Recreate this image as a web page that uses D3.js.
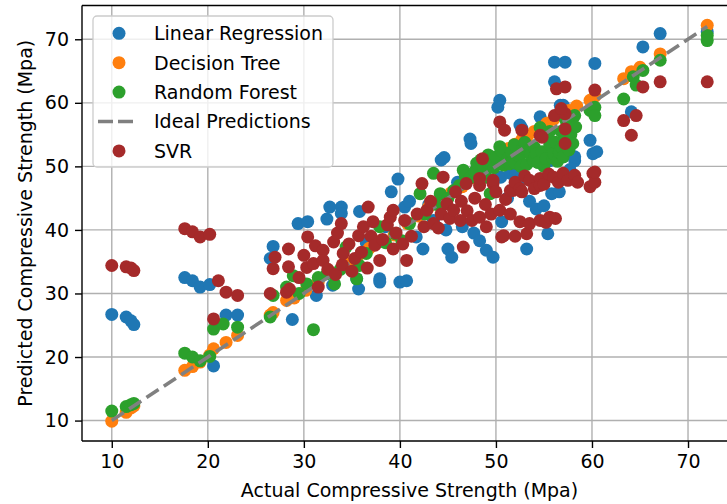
<!DOCTYPE html>
<html><head><meta charset="utf-8">
<script src="https://cdn.jsdelivr.net/npm/d3@7"></script>
<style>body{margin:0;background:#fff}svg{display:block}text{font-family:"DejaVu Sans",sans-serif;fill:#000}</style>
</head><body><svg id="c" width="727" height="504"></svg>
<script>
const xTicks=[10,20,30,40,50,60,70];
const yTicks=[10,20,30,40,50,60,70];
const idealRange=[10,72];
const xLabel="Actual Compressive Strength (Mpa)";
const yLabel="Predicted Compressive Strength (Mpa)";

// [actual, predicted]
const linearRegression=[[10,26.7],[11.5,26.3],[12,25.7],[12.3,25.1],[17.6,32.5],[18.4,32],[19.2,31],[20.2,31.4],[20.6,18.6],[21.9,26.6],[23.1,26.6],
[26.5,35.5],[26.8,37.4],[28.8,25.9],[29.4,41],[30.4,41.3],[31.3,29.7],[32.4,41.7],[32.7,43.6],[33,31.3],[33.9,43.6],[33.9,42.6],[35.5,32.3],[35.7,30.7],[35.8,42.9],[36.5,38],[37.9,32.3],[37.9,31.8],[38.5,40.5],[39.1,46],[39.8,48],[40,31.8],[40.7,32],[40.5,43.6],[41,44.5],[41.7,38.9],[42.4,37],[43,44],[43.5,41.5],[44.3,51],[44.6,51.4],[44.8,40],[45,37],[45.4,35.7],[46,47.5],[46.5,40.5],[47.3,54.3],[47.4,53.6],[47.7,39.5],[48.3,38.3],[48.5,49.5],[49,36.8],[49.7,35.7],[50.2,59.3],[50.4,60.4],[50.6,41.3],[50.5,48.3],[51.2,45],[51.5,48.9],[52.1,48.9],[52.5,47.8],[52.5,56.5],[52.7,56],[53.2,37],[53.5,44.5],[54.2,43.3],[54.6,57.8],[54.6,50.7],[55,43.8],[55.4,39.4],[55.6,50.9],[55.8,45.7],[56.1,66.4],[57.2,66.4],[56.1,63.3],[56.6,46],[56.7,59.6],[57,59.6],[57,51.5],[57.7,49.5],[58.2,50.9],[58.2,51.5],[59.8,54.1],[60.1,52],[60.5,52.3],[60.3,66.2],[64.1,58.6],[65.3,68.8],[67.1,70.9],[72,71.2]];

const decisionTree=[[10,9.9],[11.5,11.3],[12,12],[12.3,12.3],[17.6,17.9],[18.4,18.5],[19.2,19.2],[20.2,20.3],[20.6,21.3],[21.9,22.3],[23.1,23.4],[26.5,26.6],[26.8,27],[28.2,28.9],[29,29.3],[30.2,30.5],[31.5,31.8],[33,33.2],[34.4,34.8],[35.5,35.2],[36.8,37.1],[38,38.3],[39.4,39.2],[40.8,41],[41.9,42.2],[43,43.6],[44.2,44.5],[45.3,45.8],[46.5,46.8],[47.6,48.2],[48.5,49.1],[49.2,50],[50,51.3],[50.6,52.2],[51.3,52.8],[52,53.5],[52.7,54.2],[53.3,54.8],[54,55.5],[54.7,56.1],[55.3,56.8],[56,57.4],[56.8,58.1],[57.6,58.8],[58.4,59.5],[59.8,60.4],[60.3,61],[63.3,63.8],[64.1,64.9],[65,65.6],[67.1,67.7],[72,72.2]];

const randomForest=[[10,11.5],[11.5,12.2],[12,12.5],[12.3,12.7],[17.6,20.6],[18.4,20],[19.2,19.4],[20.2,20.1],[20.6,24.4],[21.6,25.2],[23.1,24.7],[26.5,26.3],[26.8,29.7],[28.2,31],[28.9,32.8],[29.5,30],[30.3,31.5],[31,24.3],[31.5,32.5],[32.4,33.1],[33.2,31.5],[33.8,33.8],[34.4,37.3],[35.5,32.3],[35.8,34.4],[36.5,36.3],[37.9,40.5],[38.5,38],[39.5,39.4],[40.2,38.3],[41,41],[42.1,45.7],[42.6,42.5],[43.5,48.9],[43.8,44],[44.2,45.7],[45,45],[45.6,46.2],[46.2,47],[46.6,49.4],[46.8,48.5],[47.3,48.2],[47.8,49.2],[48,50.5],[48.4,51],[48.7,49.5],[49,48.3],[49.2,51.8],[49.4,45.7],[49.5,50.8],[49.8,49.8],[50,51.5],[50.4,53.1],[50.6,52.4],[50.8,50.2],[51.2,51.2],[51.4,50.4],[51.6,52.3],[51.9,53.4],[52,50.5],[52.4,51.6],[52.6,50],[52.8,52.8],[53,53.8],[53.2,50.3],[53.4,52.4],[53.6,51.8],[53.9,50.9],[54,53],[54.2,52],[54.4,50.6],[54.6,56.1],[54.8,52.3],[55,50],[55.2,51.2],[55.4,54.4],[55.6,53.4],[55.6,55.5],[55.9,51.3],[56,52],[56.2,53.8],[56.4,50.8],[56.6,52.2],[56.8,53.1],[56.8,55.5],[57,51.5],[57.2,54.5],[57.2,57.5],[57.4,56.8],[57.6,52.6],[57.8,55],[58,53.6],[58.2,58],[58.3,56.2],[59.8,58.8],[60.3,59.3],[60.3,58],[63.3,60.6],[64.3,64.1],[64.6,62.8],[65.3,65.1],[67.1,66.7],[72,70.6],[72,69.8]];

const svr=[[10,34.4],[11.5,34.2],[12,34],[12.3,33.6],[17.6,40.2],[18.4,39.7],[19.2,38.9],[20.2,39.3],[20.6,26],[21.1,32],[21.9,30.2],[23.1,29.7],[26.5,30],[26.8,33.9],[27,35.7],[28.2,30.2],[28.4,34.2],[28.4,37],[28.5,30.7],[29.5,32.5],[30,36],[30.3,34.1],[30.4,38.9],[31,34.7],[31.2,37.5],[31.5,31],[32,36.8],[32,35.2],[32.5,33.8],[33.1,38.1],[33.3,33],[33.5,39.5],[33.9,41],[34,34.5],[34.1,36.3],[34.7,37.8],[35,33.5],[35.3,35.5],[35.7,39.1],[36,36.5],[36.2,40.5],[36.6,34],[36.7,43.6],[37,39],[37.2,41.3],[37.4,37.6],[37.9,35.2],[38.2,38.5],[38.7,40.8],[39,42],[39.3,43.1],[39.3,37],[39.6,39.5],[40.3,37.8],[40.5,41.5],[40.7,35.2],[41.2,39],[41.8,42.5],[42.3,47.3],[42.5,40.5],[42.8,43.1],[43.2,44.5],[43.5,41],[44,40.3],[44.3,42.5],[44.5,48.3],[44.9,44.1],[45.2,41.8],[45.6,43.1],[45.8,46],[46.3,41.5],[46.4,44.5],[46.6,37.3],[46.9,47.3],[47,43],[47.5,41.5],[47.8,45],[48.3,42],[48.9,44],[49,40.5],[48.3,47],[48.3,48.1],[48.6,51.2],[49.5,42.5],[49.7,47.3],[49.7,47.8],[50,46],[50.4,43.1],[50.6,38.9],[50.8,39.1],[50.4,57],[50.9,55.7],[51,44.8],[51.5,46.2],[51.5,42.5],[51.8,46.2],[52,47.5],[52,39],[52.5,46.5],[52.5,41.3],[52.7,46],[52.7,55.7],[53,48.5],[53.2,39.4],[53.5,47.8],[53.5,41],[54,46.5],[54.6,48.1],[54.6,47],[54.6,41.5],[54.6,54.9],[54.8,54.6],[55,47.2],[55.2,41.2],[55.5,48.8],[55.6,42],[56,48.3],[56.1,58],[57.2,58.3],[56.2,41.8],[56.3,62.2],[56.5,47.5],[56.8,59.1],[57,48.9],[57.2,55.9],[57.2,53.6],[57.2,62.5],[57.5,47.8],[58.2,48.6],[58.5,47.5],[59.8,46.8],[60.1,48.9],[60.3,47.5],[60.3,49.1],[60.3,62],[63.3,57.2],[64.1,54.9],[64.6,58],[65.3,62.5],[67.1,63.3],[72,63.3]];

const seriesNames=["Linear Regression","Decision Tree","Random Forest","Ideal Predictions","SVR"];
const seriesColors=["#1f77b4","#ff7f0e","#2ca02c","#808080","#a52a2a"];

const svg=d3.select("#c");
const box={left:82,right:737,top:5.5,bottom:441};
const all=[...linearRegression,...decisionTree,...randomForest,...svr];
function padded(ext){const m=(ext[1]-ext[0])*0.05;return [ext[0]-m,ext[1]+m];}
const xs=d3.scaleLinear().domain(padded(d3.extent(all,d=>d[0]))).range([box.left,box.right]);
const ys=d3.scaleLinear().domain(padded(d3.extent(all,d=>d[1]))).range([box.bottom,box.top]);

svg.append("defs").append("clipPath").attr("id","clip").append("rect")
 .attr("x",box.left).attr("y",box.top).attr("width",box.right-box.left).attr("height",box.bottom-box.top);

const grid=svg.append("g");
grid.selectAll(".gx").data(xTicks).join("line").attr("x1",d=>xs(d)).attr("x2",d=>xs(d)).attr("y1",box.top).attr("y2",box.bottom).attr("stroke","#b0b0b0").attr("stroke-width",1.4);
grid.selectAll(".gy").data(yTicks).join("line").attr("y1",d=>ys(d)).attr("y2",d=>ys(d)).attr("x1",box.left).attr("x2",box.right).attr("stroke","#b0b0b0").attr("stroke-width",1.4);

const plot=svg.append("g").attr("clip-path","url(#clip)");
const R=6.5;
function dots(data,color){plot.append("g").selectAll("circle").data(data).join("circle").attr("cx",d=>xs(d[0])).attr("cy",d=>ys(d[1])).attr("r",R).attr("fill",color);}
dots(linearRegression,seriesColors[0]);
dots(decisionTree,seriesColors[1]);
dots(randomForest,seriesColors[2]);
plot.append("line").attr("x1",xs(idealRange[0])).attr("y1",ys(idealRange[0])).attr("x2",xs(idealRange[1])).attr("y2",ys(idealRange[1]))
 .attr("stroke",seriesColors[3]).attr("stroke-width",3.6).attr("stroke-dasharray","14.5,6.3");
dots(svr,seriesColors[4]);

const xAxis=d3.axisBottom(xs).tickValues(xTicks).tickSize(7).tickPadding(6).tickFormat(d3.format("d"));
const yAxis=d3.axisLeft(ys).tickValues(yTicks).tickSize(7).tickPadding(6).tickFormat(d3.format("d"));
const gx=svg.append("g").attr("transform",`translate(0,${box.bottom})`).call(xAxis);
const gy=svg.append("g").attr("transform",`translate(${box.left},0)`).call(yAxis);
[gx,gy].forEach(g=>{g.select(".domain").remove();g.selectAll(".tick line").attr("stroke","#000").attr("stroke-width",1.4);g.selectAll(".tick text").attr("font-size",19).attr("font-family","DejaVu Sans").attr("fill","#000");});
gx.selectAll(".tick text").attr("dy","0.72em");
svg.append("line").attr("x1",box.left).attr("x2",box.left).attr("y1",box.top).attr("y2",box.bottom).attr("stroke","#000").attr("stroke-width",1.4);
svg.append("line").attr("x1",box.left).attr("x2",box.right).attr("y1",box.bottom).attr("y2",box.bottom).attr("stroke","#000").attr("stroke-width",1.4);
svg.append("line").attr("x1",box.left).attr("x2",box.right).attr("y1",box.top).attr("y2",box.top).attr("stroke","#000").attr("stroke-width",1.4);
svg.append("line").attr("x1",box.right).attr("x2",box.right).attr("y1",box.top).attr("y2",box.bottom).attr("stroke","#000").attr("stroke-width",1.4);

svg.append("text").attr("x",(box.left+box.right)/2).attr("y",497).attr("text-anchor","middle").attr("font-size",19).text(xLabel);
svg.append("text").attr("transform",`translate(32,${(box.top+box.bottom)/2}) rotate(-90)`).attr("text-anchor","middle").attr("font-size",19).text(yLabel);

const lg=svg.append("g");
lg.append("rect").attr("x",93).attr("y",16).attr("width",240).attr("height",151).attr("rx",4).attr("fill","#fff").attr("fill-opacity",0.8).attr("stroke","#cccccc").attr("stroke-width",1.3);
seriesNames.forEach((name,i)=>{
  const cy=33.3+i*29.4;
  if(i===3){lg.append("line").attr("x1",98).attr("x2",133).attr("y1",cy).attr("y2",cy).attr("stroke",seriesColors[i]).attr("stroke-width",3.6).attr("stroke-dasharray","15,5");}
  else{lg.append("circle").attr("cx",119).attr("cy",cy).attr("r",R).attr("fill",seriesColors[i]);}
  lg.append("text").attr("x",154).attr("y",cy+6.8).attr("font-size",19).text(name);
});
</script></body></html>
